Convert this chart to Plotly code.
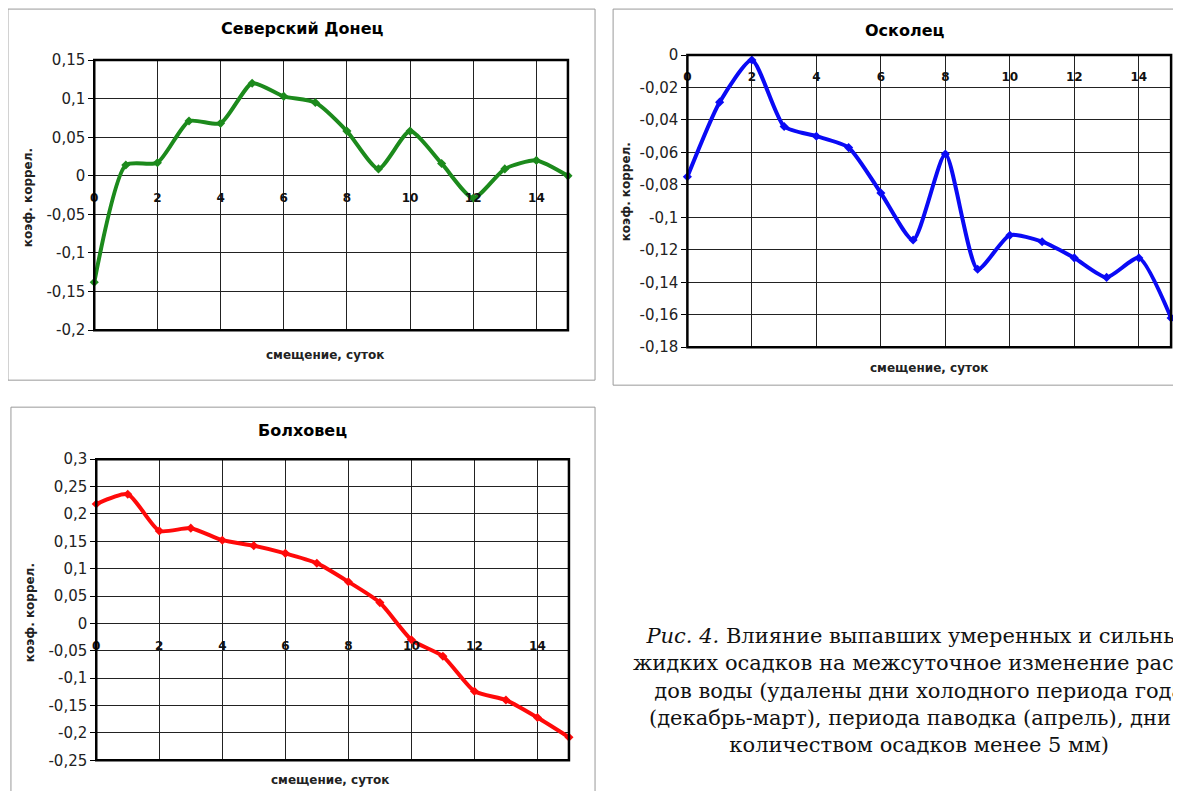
import plotly.graph_objects as go

# Figure size (the page body adds an 8px margin around it)
OFF = 8
W, H = 1165, 790

# ---------------- data ----------------
days = list(range(0, 16))

donets_title = "Северский Донец"
donets_corr = [-0.138, 0.014, 0.017, 0.071, 0.068, 0.120, 0.103, 0.095,
               0.058, 0.009, 0.058, 0.016, -0.029, 0.009, 0.020, 0.000]
donets_yticks = [0.15, 0.1, 0.05, 0, -0.05, -0.1, -0.15, -0.2]
donets_yticktext = ["0,15", "0,1", "0,05", "0", "-0,05", "-0,1", "-0,15", "-0,2"]

oskolets_title = "Осколец"
oskolets_corr = [-0.075, -0.029, -0.003, -0.044, -0.050, -0.057, -0.085, -0.114,
                 -0.061, -0.132, -0.111, -0.115, -0.125, -0.137, -0.125, -0.162]
oskolets_yticks = [0, -0.02, -0.04, -0.06, -0.08, -0.1, -0.12, -0.14, -0.16, -0.18]
oskolets_yticktext = ["0", "-0,02", "-0,04", "-0,06", "-0,08", "-0,1",
                      "-0,12", "-0,14", "-0,16", "-0,18"]

bolkhovets_title = "Болховец"
bolkhovets_corr = [0.218, 0.236, 0.169, 0.174, 0.152, 0.142, 0.128, 0.110,
                   0.076, 0.038, -0.030, -0.060, -0.124, -0.140, -0.172, -0.208]
bolkhovets_yticks = [0.3, 0.25, 0.2, 0.15, 0.1, 0.05, 0, -0.05, -0.1, -0.15, -0.2, -0.25]
bolkhovets_yticktext = ["0,3", "0,25", "0,2", "0,15", "0,1", "0,05", "0", "-0,05",
                        "-0,1", "-0,15", "-0,2", "-0,25"]

x_tickvals = [0, 2, 4, 6, 8, 10, 12, 14]
x_ticktext = ["0", "2", "4", "6", "8", "10", "12", "14"]

x_title = "смещение, суток"
y_title = "коэф. коррел."

caption = ("<i>Рис. 4.</i> Влияние выпавших умеренных и сильных<br>"
           "жидких осадков на межсуточное изменение расхо-<br>"
           "дов воды (удалены дни холодного периода года<br>"
           "(декабрь-март), периода паводка (апрель), дни с<br>"
           "количеством осадков менее 5 мм)")

SANS = "DejaVu Sans"

# mapping from target-picture pixels to paper coords (compensates the photo scaling)
SX, CX = 0.993, 4.1
SY, CY = 0.977, 9.1


def px_x(v):
    return ((v - CX) / SX - OFF) / W


def px_y(v):
    return 1 - ((v - CY) / SY - OFF) / H


panels = [
    dict(title=donets_title, y=donets_corr, yticks=donets_yticks, ytext=donets_yticktext,
         color="#1c8a1c", box=(94, 60, 566, 330), outer=(8, 9, 593, 380),
         title_xy=(302, 28), ytitle_xy=(28, 198), xtitle_xy=(324, 355)),
    dict(title=oskolets_title, y=oskolets_corr, yticks=oskolets_yticks, ytext=oskolets_yticktext,
         color="#0a0af5", box=(685, 55, 1167, 347), outer=(611, 9, 1200, 385),
         title_xy=(902, 30), ytitle_xy=(624, 192), xtitle_xy=(926, 368)),
    dict(title=bolkhovets_title, y=bolkhovets_corr, yticks=bolkhovets_yticks, ytext=bolkhovets_yticktext,
         color="#ff0a0a", box=(96, 459, 567, 760), outer=(11, 407, 593, 820),
         title_xy=(302, 430), ytitle_xy=(30, 613), xtitle_xy=(329, 780)),
]

fig = go.Figure()
layout = dict(width=W, height=H, margin=dict(l=0, r=0, t=0, b=0),
              paper_bgcolor="white", plot_bgcolor="white", showlegend=False)
shapes = []
annotations = []

for i, p in enumerate(panels, start=1):
    sfx = "" if i == 1 else str(i)
    xa, ya = "x" + sfx, "y" + sfx
    x0, y0, x1, y1 = p["box"]
    xdom = [px_x(x0), px_x(x1)]
    ydom = [px_y(y1), px_y(y0)]
    ymin, ymax = min(p["yticks"]), max(p["yticks"])
    zero_pos = ydom[0] + (0 - ymin) / (ymax - ymin) * (ydom[1] - ydom[0])

    fig.add_trace(go.Scatter(
        x=days, y=p["y"], xaxis=xa, yaxis=ya, mode="lines+markers",
        line=dict(color=p["color"], width=4, shape="spline", smoothing=0.6),
        marker=dict(symbol="diamond", size=7, color=p["color"]),
        cliponaxis=False,
    ))

    layout["xaxis" + sfx] = dict(
        domain=xdom, range=[0, 15], anchor="free", position=zero_pos,
        tickvals=x_tickvals, ticktext=x_ticktext, side="bottom",
        ticks="outside", ticklen=11, tickcolor="rgba(0,0,0,0)",
        tickfont=dict(family=SANS, size=12, color="#111", weight="bold"),
        showgrid=True, gridcolor="#222", gridwidth=1, zeroline=False, showline=False,
    )
    layout["yaxis" + sfx] = dict(
        domain=ydom, range=[ymin, ymax], anchor=xa,
        tickvals=p["yticks"], ticktext=p["ytext"],
        ticks="outside", ticklen=5, tickcolor="#000",
        tickfont=dict(family=SANS, size=15, color="#222"),
        showgrid=True, gridcolor="#222", gridwidth=1, zeroline=False, showline=False,
    )

    # plot frame
    shapes.append(dict(type="rect", xref=xa + " domain", yref=ya + " domain",
                       x0=0, y0=0, x1=1, y1=1, line=dict(color="#000", width=2.5),
                       layer="above"))
    # outer chart border
    ox0, oy0, ox1, oy1 = p["outer"]
    shapes.append(dict(type="rect", xref="paper", yref="paper",
                       x0=px_x(ox0), y0=px_y(oy1), x1=px_x(ox1), y1=px_y(oy0),
                       line=dict(color="#999", width=1), layer="below"))

    tx, ty = p["title_xy"]
    annotations.append(dict(x=px_x(tx), y=px_y(ty), xref="paper", yref="paper",
                            xanchor="center", yanchor="middle",
                            text="<b>%s</b>" % p["title"], showarrow=False,
                            font=dict(family=SANS, size=16, color="#000")))
    yx, yy = p["ytitle_xy"]
    annotations.append(dict(x=px_x(yx), y=px_y(yy), xref="paper", yref="paper",
                            xanchor="center", yanchor="middle",
                            text="<b>%s</b>" % y_title, showarrow=False, textangle=-90,
                            font=dict(family=SANS, size=12, color="#222")))
    xx, xy = p["xtitle_xy"]
    annotations.append(dict(x=px_x(xx), y=px_y(xy), xref="paper", yref="paper",
                            xanchor="center", yanchor="middle",
                            text="<b>%s</b>" % x_title, showarrow=False,
                            font=dict(family=SANS, size=12, color="#222")))

annotations.append(dict(x=px_x(916), y=px_y(690), xref="paper", yref="paper",
                        text=caption, showarrow=False, align="center",
                        xanchor="center", yanchor="middle",
                        font=dict(family="DejaVu Serif", size=21, color="#111")))

layout["shapes"] = shapes
layout["annotations"] = annotations
fig.update_layout(**layout)

fig.write_html("out.html")
